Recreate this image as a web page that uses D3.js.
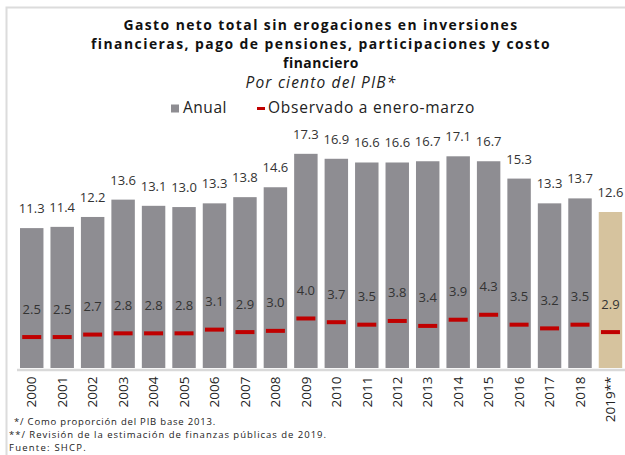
<!DOCTYPE html>
<html>
<head>
<meta charset="utf-8">
<script src="https://cdn.jsdelivr.net/npm/d3@7"></script>
<style>
  html, body { margin: 0; padding: 0; background: #fff; }
  svg { display: block; font-family: "Open Sans", "Noto Sans", sans-serif; }
</style>
</head>
<body>
<svg id="chart" width="625" height="455"></svg>
<script>
const years = ["2000","2001","2002","2003","2004","2005","2006","2007","2008","2009",
               "2010","2011","2012","2013","2014","2015","2016","2017","2018","2019**"];
const anual = [11.3, 11.4, 12.2, 13.6, 13.1, 13.0, 13.3, 13.8, 14.6, 17.3,
               16.9, 16.6, 16.6, 16.7, 17.1, 16.7, 15.3, 13.3, 13.7, 12.6];
const observado = [2.5, 2.5, 2.7, 2.8, 2.8, 2.8, 3.1, 2.9, 3.0, 4.0,
                   3.7, 3.5, 3.8, 3.4, 3.9, 4.3, 3.5, 3.2, 3.5, 2.9];
const titleLines = ["Gasto neto total sin erogaciones en inversiones",
                    "financieras, pago de pensiones, participaciones y costo",
                    "financiero"];
const subtitle = "Por ciento del PIB*";
const legendLabels = ["Anual", "Observado a enero-marzo"];
const footnotes = ["*/ Como proporción del PIB base 2013.",
                   "**/ Revisión de la estimación de finanzas públicas de 2019.",
                   "Fuente: SHCP."];

const GRAY = "#8e8d92", TAN = "#d6c39e", RED = "#c00000", TXT = "#333333";

const svg = d3.select("#chart");

// frame
svg.append("path").attr("d", "M6.5,455 V7.5 H625")
  .attr("fill", "none").attr("stroke", "#dcdcdc").attr("stroke-width", 2);

// widen text to a target width with letter-spacing
function spread(sel, target) {
  const n = sel.node();
  const w = n.getComputedTextLength();
  const len = sel.text().length;
  if (w > 0 && len > 1) sel.attr("letter-spacing", ((target - w) / len).toFixed(3));
}

// title
const cx = 321;
const tBase = [30, 49, 68];
const tWidths = [395, 460, 76];
titleLines.forEach((s, i) => {
  const t = svg.append("text").attr("x", cx).attr("y", tBase[i])
    .attr("text-anchor", "middle").attr("font-weight", 700)
    .attr("font-size", 13.9).attr("fill", "#111").text(s);
  spread(t, tWidths[i]);
});
const st = svg.append("text").attr("x", cx).attr("y", 88)
  .attr("text-anchor", "middle").attr("font-style", "italic")
  .attr("font-size", 15.5).attr("fill", "#222").text(subtitle);
spread(st, 151);

// legend
svg.append("rect").attr("x", 171).attr("y", 104.5).attr("width", 8).attr("height", 8).attr("fill", GRAY);
const l1 = svg.append("text").attr("x", 183).attr("y", 113).attr("font-size", 15.5).attr("fill", "#222").text(legendLabels[0]);
spread(l1, 44);
svg.append("rect").attr("x", 257).attr("y", 107).attr("width", 8).attr("height", 3).attr("fill", RED);
const l2 = svg.append("text").attr("x", 268).attr("y", 113).attr("font-size", 15.5).attr("fill", "#222").text(legendLabels[1]);
spread(l2, 207);

// scales
const x = d3.scaleBand().domain(years).range([16.5, 625.7]).paddingInner(0.23).paddingOuter(0.115);
const y = d3.scaleLinear().domain([0, 18]).range([368, 368 - 18 * 12.38]);

// bars
svg.append("g").selectAll("rect").data(years).join("rect")
  .attr("x", d => x(d)).attr("width", x.bandwidth())
  .attr("y", (d, i) => y(anual[i])).attr("height", (d, i) => y(0) - y(anual[i]))
  .attr("fill", (d, i) => i === years.length - 1 ? TAN : GRAY);

// axis
const ax = svg.append("g").attr("transform", "translate(0,369.5)")
  .call(d3.axisBottom(x).tickSize(0).tickSizeOuter(0));
ax.select(".domain").attr("stroke", "#d9d9d9").attr("stroke-width", 2.5);
ax.selectAll("text")
  .attr("transform", "rotate(-90)").attr("text-anchor", "end")
  .attr("x", -7).attr("y", 0).attr("dy", "0.35em")
  .attr("font-size", 13.5).attr("font-family", "'Open Sans', sans-serif").attr("fill", "#222");

// annual labels
svg.append("g").selectAll("text").data(years).join("text")
  .attr("x", d => x(d) + x.bandwidth() / 2)
  .attr("y", (d, i) => y(anual[i]) - 15)
  .attr("text-anchor", "middle").attr("font-size", 13).attr("fill", TXT)
  .text((d, i) => anual[i].toFixed(1));

// observed marks
svg.append("g").selectAll("rect").data(years).join("rect")
  .attr("x", d => x(d) + x.bandwidth() / 2 - 9.5).attr("width", 19)
  .attr("y", (d, i) => y(observado[i]) - 2).attr("height", 4)
  .attr("fill", RED);

svg.append("g").selectAll("text").data(years).join("text")
  .attr("x", d => x(d) + x.bandwidth() / 2)
  .attr("y", (d, i) => y(observado[i]) - 23.5)
  .attr("text-anchor", "middle").attr("font-size", 13).attr("fill", TXT)
  .text((d, i) => observado[i].toFixed(1));

// footnotes
const fx = [14, 9, 9], fy = [425, 438, 451], fw = [202, 318, 78];
footnotes.forEach((s, i) => {
  const t = svg.append("text").attr("x", fx[i]).attr("y", fy[i])
    .attr("font-size", 9.5).attr("fill", "#222").text(s);
  spread(t, fw[i]);
});
</script>
</body>
</html>
